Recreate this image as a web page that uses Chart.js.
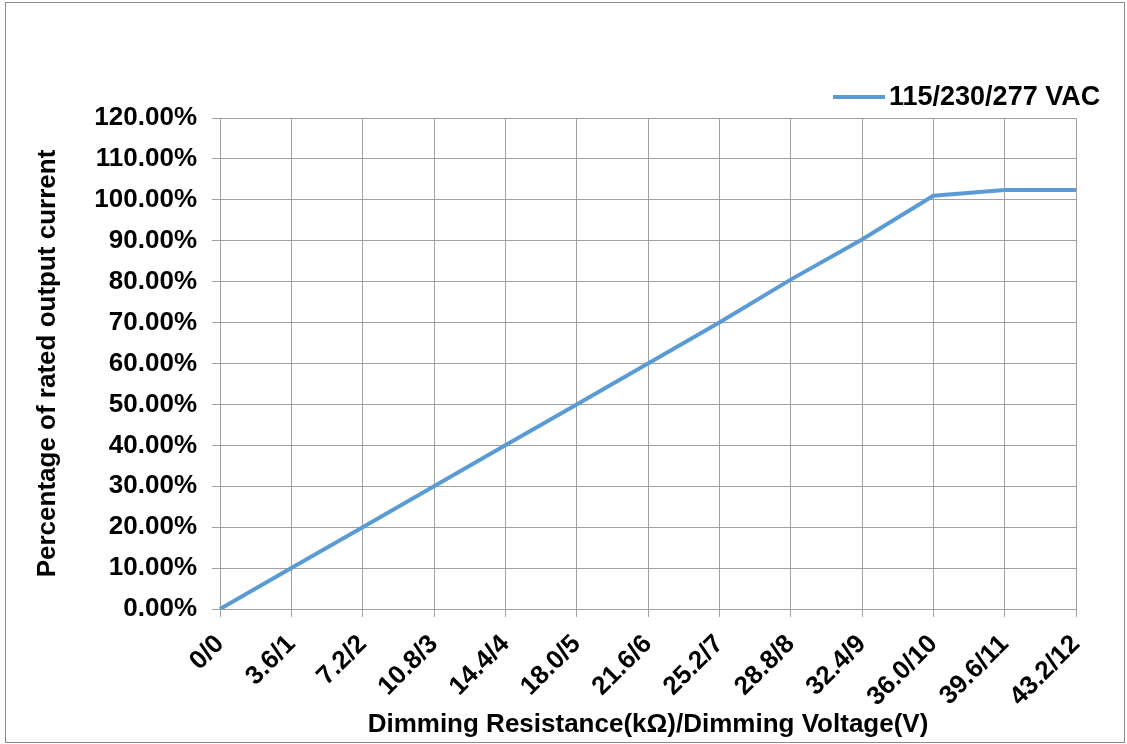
<!DOCTYPE html>
<html>
<head>
<meta charset="utf-8">
<script src="https://cdn.jsdelivr.net/npm/chart.js@4"></script>
<style>
  html, body { margin: 0; padding: 0; background: #fff; }
  #wrap { position: relative; width: 1127px; height: 744px; overflow: hidden; }
  #frame { position: absolute; left: 5px; top: 2px; width: 1118px; height: 739px; border: 1px solid #8c8c8c; pointer-events: none; }
  canvas { position: absolute; left: 0; top: 0; }
</style>
</head>
<body>
<div id="wrap">
  <canvas id="chart" width="1127" height="744"></canvas>
  <div id="frame"></div>
</div>
<script>
// --- Data ---
const categories = ['0/0', '3.6/1', '7.2/2', '10.8/3', '14.4/4', '18.0/5', '21.6/6',
                    '25.2/7', '28.8/8', '32.4/9', '36.0/10', '39.6/11', '43.2/12'];
const outputPercent = [0, 10, 20, 30, 40, 50, 60, 70, 80.5, 90.3, 101, 102.4, 102.4];
const seriesName = '115/230/277 VAC';
const xTitle = 'Dimming Resistance(k\u03A9)/Dimming Voltage(V)';
const yTitle = 'Percentage of rated output current';

// --- Styles ---
const FONT = { family: '"Liberation Sans", Arial, sans-serif', size: 26, weight: 'bold' };
const GRID = '#a0a0a0';
const LINE = '#5b9bd5';

Chart.defaults.font.family = FONT.family;
Chart.defaults.color = '#000';

// Excel-style legend: short line, tight gap, text, sitting in the top-right corner
const cornerLegend = {
    id: 'cornerLegend',
    afterDraw(chart) {
        const ctx = chart.ctx;
        const ds = chart.data.datasets[0];
        const y = 97;
        ctx.save();
        ctx.strokeStyle = ds.borderColor;
        ctx.lineWidth = 4;
        ctx.beginPath();
        ctx.moveTo(833, y);
        ctx.lineTo(885, y);
        ctx.stroke();
        ctx.fillStyle = '#000';
        ctx.font = 'bold 27px ' + FONT.family;
        ctx.textBaseline = 'middle';
        ctx.textAlign = 'left';
        ctx.fillText(ds.label, 889, y + 1);
        ctx.restore();
    }
};

new Chart(document.getElementById('chart').getContext('2d'), {
    type: 'line',
    data: {
        labels: categories,
        datasets: [{
            label: seriesName,
            data: outputPercent,
            borderColor: LINE,
            backgroundColor: LINE,
            borderWidth: 4,
            pointRadius: 0,
            tension: 0,
            fill: false
        }]
    },
    options: {
        responsive: false,
        devicePixelRatio: 1,
        animation: false,
        layout: { padding: { left: 6, right: 51, top: 118, bottom: 4 } },
        plugins: {
            legend: { display: false },
            tooltip: { enabled: false }
        },
        scales: {
            x: {
                offset: false,
                grid: { color: GRID, lineWidth: 1, tickLength: 8, drawTicks: true },
                border: { color: GRID },
                ticks: { font: FONT, minRotation: 45, maxRotation: 45, autoSkip: false, padding: 12 },
                title: { display: true, text: xTitle, font: FONT, padding: 0 },
                afterFit: s => { s.height = 744 - 609 - 4; }
            },
            y: {
                min: 0,
                max: 120,
                grid: { color: GRID, lineWidth: 1, tickLength: 8 },
                border: { color: GRID },
                ticks: {
                    font: FONT,
                    stepSize: 10,
                    padding: 15,
                    callback: v => v.toFixed(2) + '%'
                },
                title: { display: true, text: yTitle, font: FONT, padding: { top: 26, bottom: 0 } },
                afterFit: s => { s.width = 220 - 6; }
            }
        }
    },
    plugins: [cornerLegend]
});
</script>
</body>
</html>
